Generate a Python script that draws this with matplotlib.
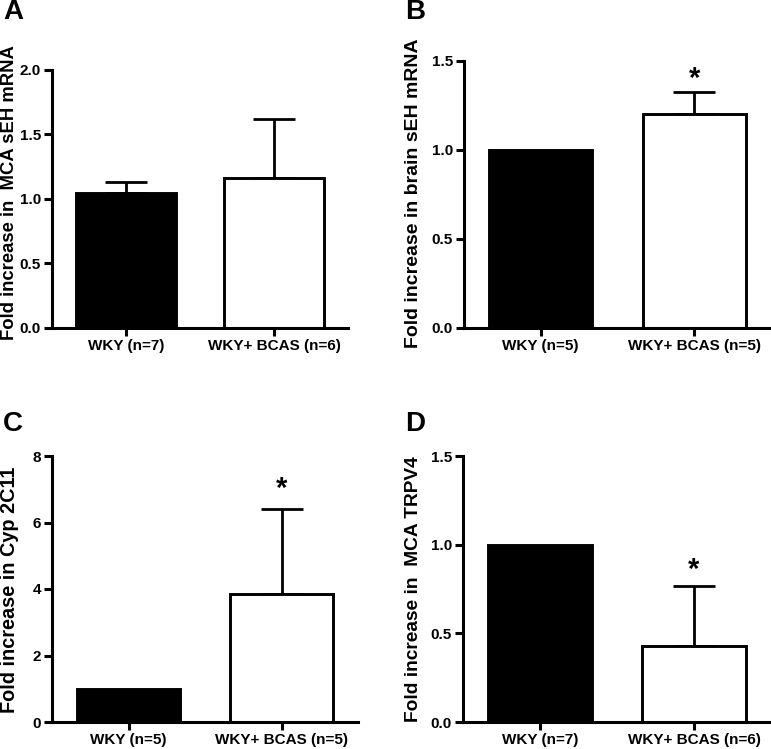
import matplotlib
matplotlib.use("Agg")
import matplotlib.pyplot as plt

plt.rcParams['font.family'] = ['Liberation Sans', 'DejaVu Sans']
plt.rcParams['font.weight'] = 'bold'

categories_A = ["WKY (n=7)", "WKY+ BCAS (n=6)"]
values_A = [1.05, 1.165]
errors_A = [0.085, 0.455]
stars_A = [None, None]

categories_B = ["WKY (n=5)", "WKY+ BCAS (n=5)"]
values_B = [1.0, 1.20]
errors_B = [0.0, 0.125]
stars_B = [None, 1.40]

categories_C = ["WKY (n=5)", "WKY+ BCAS (n=5)"]
values_C = [1.0, 3.85]
errors_C = [0.0, 2.55]
stars_C = [None, 7.0]

categories_D = ["WKY (n=7)", "WKY+ BCAS (n=6)"]
values_D = [1.0, 0.43]
errors_D = [0.0, 0.335]
stars_D = [None, 0.86]

ylabels = ["Fold increase in  MCA sEH mRNA", "Fold increase in brain sEH mRNA",
           "Fold increase in Cyp 2C11", "Fold increase in  MCA TRPV4"]
yticks = [[0.0, 0.5, 1.0, 1.5, 2.0], [0.0, 0.5, 1.0, 1.5], [0, 2, 4, 6, 8], [0.0, 0.5, 1.0, 1.5]]
ytickfmt = ["{:.1f}", "{:.1f}", "{:d}", "{:.1f}"]
panel_letters = ["A", "B", "C", "D"]

W, H = 771, 749
fig = plt.figure(figsize=(W / 100, H / 100), dpi=100)

# axes boxes in pixels: left, top, right, bottom
boxes = [(52, 70, 348, 328), (464, 61, 771, 328), (52, 456, 358, 722), (463, 456, 771, 722)]
ylabel_x = [10, 414, 10, 414]
ylabel_y = [193, 193, 590, 589]
ylabel_size = [13.3, 14.0, 14.3, 13.8]
letter_pos = [(3, 12), (405, 12), (3, 424), (405, 424)]

data = [(categories_A, values_A, errors_A, stars_A),
        (categories_B, values_B, errors_B, stars_B),
        (categories_C, values_C, errors_C, stars_C),
        (categories_D, values_D, errors_D, stars_D)]

lw = 2.2
for i, (cats, vals, errs, stars) in enumerate(data):
    l, t, r, b = boxes[i]
    ax = fig.add_axes([l / W, 1 - b / H, (r - l) / W, (b - t) / H])
    x = list(range(len(cats)))
    ax.bar(x, vals, width=0.67, color=["black", "white"], edgecolor="black", linewidth=2.1, zorder=2)
    for xi, v, e in zip(x, vals, errs):
        if e > 0:
            ax.errorbar([xi], [v], yerr=[[0], [e]], fmt="none", ecolor="black",
                        elinewidth=2.0, capsize=15, capthick=2.0, zorder=1)
    for xi, s in zip(x, stars):
        if s is not None:
            ax.text(xi, s, "*", ha="center", va="center", fontsize=21, fontweight="bold")
    ax.set_xlim(-0.5, 1.5)
    ax.set_ylim(yticks[i][0], yticks[i][-1])
    ax.set_yticks(yticks[i])
    ax.set_yticklabels([ytickfmt[i].format(v) for v in yticks[i]], fontsize=11, fontweight="bold")
    ax.set_xticks(x)
    ax.set_xticklabels(cats, fontsize=11, fontweight="bold")
    for side in ["top", "right"]:
        ax.spines[side].set_visible(False)
    for side in ["left", "bottom"]:
        ax.spines[side].set_linewidth(lw)
    ax.tick_params(axis="both", width=lw, length=6, direction="out", pad=2)
    ax.patch.set_alpha(0)
    fig.text(ylabel_x[i] / W, 1 - ylabel_y[i] / H, ylabels[i], rotation=90, ha="center", va="center",
             fontsize=ylabel_size[i], fontweight="bold")
    lx, ly = letter_pos[i]
    fig.text(lx / W, 1 - ly / H, panel_letters[i], ha="left", va="center", fontsize=20, fontweight="bold")

fig.savefig("out.png", dpi=100)
